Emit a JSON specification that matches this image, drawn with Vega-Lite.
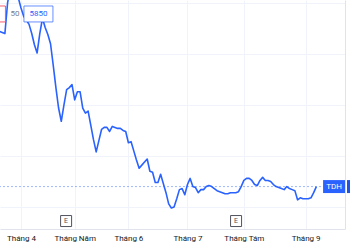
{
  "$schema": "https://vega.github.io/schema/vega-lite/v6.json",
  "width": 345,
  "height": 229,
  "autosize": "none",
  "padding": {"left": 0, "top": 0, "right": 5, "bottom": 21},
  "background": "#ffffff",
  "config": {
    "view": {"stroke": null},
    "font": "Roboto"
  },
  "datasets": {
    "prices": [
      {"i": -8, "close": 5720}, {"i": -7, "close": 5710}, {"i": -6, "close": 5700}, {"i": -5, "close": 6000},
      {"i": -4, "close": 6150}, {"i": -3, "close": 6200}, {"i": -2, "close": 6150}, {"i": -1, "close": 6050},
      {"i": 0, "close": 5950}, {"i": 1, "close": 5870}, {"i": 2, "close": 5830}, {"i": 3, "close": 5790},
      {"i": 4, "close": 5700}, {"i": 5, "close": 5590}, {"i": 6, "close": 5510}, {"i": 7, "close": 5700},
      {"i": 8, "close": 5850}, {"i": 9, "close": 5760}, {"i": 10, "close": 5690}, {"i": 11, "close": 5600},
      {"i": 12, "close": 5390}, {"i": 13, "close": 5170}, {"i": 14, "close": 4970}, {"i": 15, "close": 4840},
      {"i": 16, "close": 5000}, {"i": 17, "close": 5150}, {"i": 18, "close": 5170}, {"i": 19, "close": 5200},
      {"i": 20, "close": 5050}, {"i": 21, "close": 5130}, {"i": 22, "close": 5130}, {"i": 23, "close": 4970},
      {"i": 24, "close": 4920}, {"i": 25, "close": 4940}, {"i": 26, "close": 4800}, {"i": 27, "close": 4660},
      {"i": 28, "close": 4540}, {"i": 29, "close": 4650}, {"i": 30, "close": 4760}, {"i": 31, "close": 4780},
      {"i": 32, "close": 4780}, {"i": 33, "close": 4740}, {"i": 34, "close": 4790}, {"i": 35, "close": 4780},
      {"i": 36, "close": 4770}, {"i": 37, "close": 4770}, {"i": 38, "close": 4750}, {"i": 39, "close": 4740},
      {"i": 40, "close": 4630}, {"i": 41, "close": 4640}, {"i": 42, "close": 4550}, {"i": 43, "close": 4460},
      {"i": 44, "close": 4380}, {"i": 45, "close": 4410}, {"i": 46, "close": 4440}, {"i": 47, "close": 4470},
      {"i": 48, "close": 4350}, {"i": 49, "close": 4340}, {"i": 50, "close": 4240}, {"i": 51, "close": 4240},
      {"i": 52, "close": 4320}, {"i": 53, "close": 4230}, {"i": 54, "close": 4140}, {"i": 55, "close": 4030},
      {"i": 56, "close": 3990}, {"i": 57, "close": 4000}, {"i": 58, "close": 4080}, {"i": 59, "close": 4170},
      {"i": 60, "close": 4180}, {"i": 61, "close": 4120}, {"i": 62, "close": 4220}, {"i": 63, "close": 4280},
      {"i": 64, "close": 4200}, {"i": 65, "close": 4190}, {"i": 66, "close": 4140}, {"i": 67, "close": 4170},
      {"i": 68, "close": 4170}, {"i": 69, "close": 4200}, {"i": 70, "close": 4210}, {"i": 71, "close": 4200},
      {"i": 72, "close": 4180}, {"i": 73, "close": 4160}, {"i": 74, "close": 4150}, {"i": 75, "close": 4140},
      {"i": 76, "close": 4130}, {"i": 77, "close": 4130}, {"i": 78, "close": 4140}, {"i": 79, "close": 4140},
      {"i": 80, "close": 4140}, {"i": 81, "close": 4150}, {"i": 82, "close": 4200}, {"i": 83, "close": 4260},
      {"i": 84, "close": 4280}, {"i": 85, "close": 4280}, {"i": 86, "close": 4260}, {"i": 87, "close": 4220},
      {"i": 88, "close": 4210}, {"i": 89, "close": 4260}, {"i": 90, "close": 4290}, {"i": 91, "close": 4260},
      {"i": 92, "close": 4260}, {"i": 93, "close": 4250}, {"i": 94, "close": 4220}, {"i": 95, "close": 4200},
      {"i": 96, "close": 4190}, {"i": 97, "close": 4180}, {"i": 98, "close": 4170}, {"i": 99, "close": 4200},
      {"i": 100, "close": 4180}, {"i": 101, "close": 4170}, {"i": 102, "close": 4160}, {"i": 103, "close": 4070},
      {"i": 104, "close": 4090}, {"i": 105, "close": 4080}, {"i": 106, "close": 4080}, {"i": 107, "close": 4080},
      {"i": 108, "close": 4090}, {"i": 109, "close": 4140}, {"i": 110, "close": 4200}
    ],
    "last": [{"price": 4200, "symbol": "TDH"}],
    "tags": [
      {"i": 6.5, "price": 5892, "text": "5850", "kind": "blue"},
      {"i": -11.2, "price": 5892, "text": "", "kind": "red"},
      {"i": -2.2, "price": 5892, "text": "50", "kind": "plain"},
      {"i": 116.6, "price": 4200, "text": "TDH", "kind": "last"},
      {"i": 125.5, "price": 4200, "text": "", "kind": "lastval"}
    ],
    "events": [
      {"i": 16.8, "type": "E"},
      {"i": 80.1, "type": "E"}
    ]
  },
  "layer": [
    {
      "data": {"name": "last"},
      "mark": {"type": "rule", "color": "#2962ff", "opacity": 0.45, "strokeDash": [2, 2], "strokeWidth": 1},
      "encoding": {
        "y": {"field": "price", "type": "quantitative",
          "scale": {"domain": [3784, 6029], "nice": false, "zero": false},
          "axis": {"orient": "right", "title": null, "labels": false, "ticks": false,
            "values": [4000, 4250, 4500, 4750, 5000, 5250, 5500, 5750, 6000],
            "grid": true, "gridColor": "#f0f3fa", "gridWidth": 1,
            "domain": true, "domainColor": "#e0e3eb"}
        }
      }
    },
    {
      "data": {"name": "prices"},
      "mark": {"type": "line", "color": "#2962ff", "strokeWidth": 1.6, "clip": true, "strokeJoin": "round"},
      "encoding": {
        "x": {"field": "i", "type": "quantitative",
          "scale": {"domain": [-7.82, 120.67], "nice": false, "zero": false},
          "axis": {"title": null, "values": [0, 20, 40, 62, 83, 106],
            "labelExpr": "datum.value == 0 ? 'Tháng 4' : datum.value == 20 ? 'Tháng Năm' : datum.value == 40 ? 'Tháng 6' : datum.value == 62 ? 'Tháng 7' : datum.value == 83 ? 'Tháng Tám' : 'Tháng 9'",
            "ticks": false, "grid": true, "gridColor": "#f0f3fa", "domainColor": "#e0e3eb",
            "labelFont": "Roboto", "labelFontSize": 8, "labelColor": "#131722",
            "labelPadding": 9, "labelBaseline": "middle", "labelFlush": false, "labelOverlap": false}
        },
        "y": {"field": "close", "type": "quantitative"}
      }
    },
    {
      "data": {"name": "events"},
      "mark": {"type": "point", "shape": "square", "size": 121, "filled": true, "fill": "#ffffff", "stroke": "#50535e", "strokeWidth": 1, "opacity": 1},
      "encoding": {
        "x": {"field": "i", "type": "quantitative"},
        "y": {"datum": 3862, "type": "quantitative"}
      }
    },
    {
      "data": {"name": "events"},
      "mark": {"type": "text", "font": "Roboto", "fontSize": 7, "color": "#50535e", "baseline": "middle", "align": "center"},
      "encoding": {
        "x": {"field": "i", "type": "quantitative"},
        "y": {"datum": 3862, "type": "quantitative"},
        "text": {"field": "type"}
      }
    },
    {
      "data": {"name": "tags"},
      "transform": [{"filter": "datum.kind == 'blue'"}],
      "mark": {"type": "point", "shape": "M-1,-0.55H1V0.55H-1Z", "size": 841, "filled": true, "fill": "#ffffff", "stroke": "#2962ff", "strokeOpacity": 0.7, "strokeWidth": 1, "opacity": 1, "clip": false},
      "encoding": {"x": {"field": "i", "type": "quantitative"}, "y": {"field": "price", "type": "quantitative"}}
    },
    {
      "data": {"name": "tags"},
      "transform": [{"filter": "datum.kind == 'red'"}],
      "mark": {"type": "point", "shape": "M-1,-0.55H1V0.55H-1Z", "size": 841, "filled": true, "fill": "#ffffff", "stroke": "#f23645", "strokeOpacity": 0.8, "strokeWidth": 1, "opacity": 1, "clip": false},
      "encoding": {"x": {"field": "i", "type": "quantitative"}, "y": {"field": "price", "type": "quantitative"}}
    },
    {
      "data": {"name": "tags"},
      "transform": [{"filter": "datum.kind == 'last'"}],
      "mark": {"type": "point", "shape": "M-1,-0.59H1V0.59H-1Z", "size": 484, "filled": true, "fill": "#2962ff", "opacity": 1, "strokeWidth": 0, "clip": false},
      "encoding": {"x": {"field": "i", "type": "quantitative"}, "y": {"field": "price", "type": "quantitative"}}
    },
    {
      "data": {"name": "tags"},
      "transform": [{"filter": "datum.kind == 'lastval'"}],
      "mark": {"type": "point", "shape": "M-1,-0.59H1V0.59H-1Z", "size": 484, "filled": true, "fill": "#1e53e5", "opacity": 1, "strokeWidth": 0, "clip": false},
      "encoding": {"x": {"field": "i", "type": "quantitative"}, "y": {"field": "price", "type": "quantitative"}}
    },
    {
      "data": {"name": "tags"},
      "transform": [{"filter": "datum.kind == 'blue'"}],
      "mark": {"type": "text", "font": "Roboto", "fontSize": 8, "color": "#2962ff", "baseline": "middle", "align": "center", "clip": false},
      "encoding": {"x": {"field": "i", "type": "quantitative"}, "y": {"field": "price", "type": "quantitative"}, "text": {"field": "text"}}
    },
    {
      "data": {"name": "tags"},
      "transform": [{"filter": "datum.kind == 'plain'"}],
      "mark": {"type": "text", "font": "Roboto", "fontSize": 8, "color": "#787b86", "baseline": "middle", "align": "center", "clip": false},
      "encoding": {"x": {"field": "i", "type": "quantitative"}, "y": {"field": "price", "type": "quantitative"}, "text": {"field": "text"}}
    },
    {
      "data": {"name": "tags"},
      "transform": [{"filter": "datum.kind == 'last'"}],
      "mark": {"type": "text", "font": "Roboto", "fontSize": 8, "color": "#ffffff", "baseline": "middle", "align": "center", "clip": false},
      "encoding": {"x": {"field": "i", "type": "quantitative"}, "y": {"field": "price", "type": "quantitative"}, "text": {"field": "text"}}
    }
  ]
}
